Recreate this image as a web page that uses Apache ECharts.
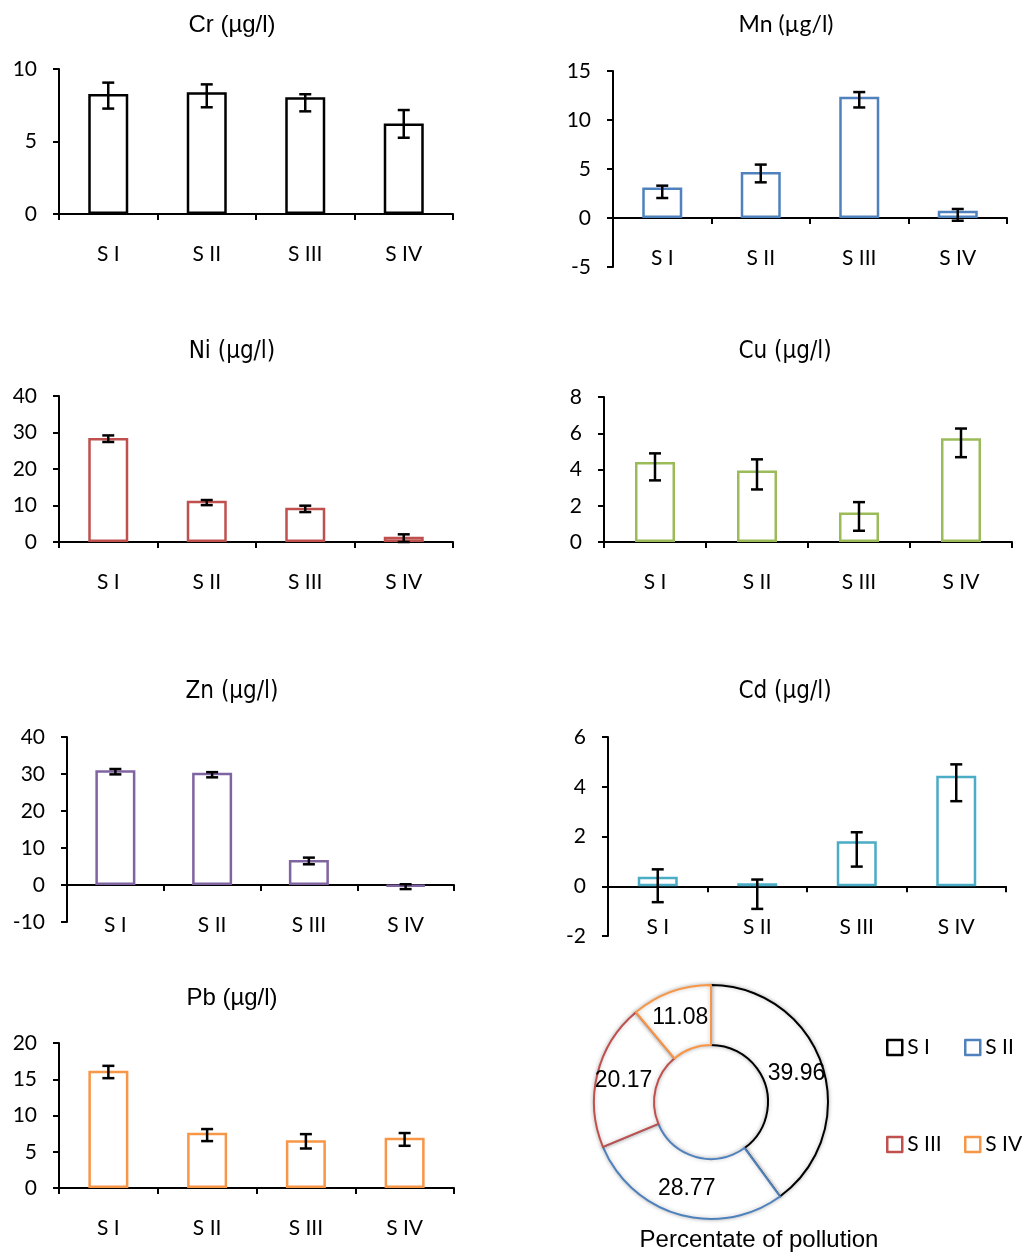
<!DOCTYPE html>
<html>
<head>
<meta charset="utf-8">
<script src="https://cdn.jsdelivr.net/npm/echarts@6/dist/echarts.min.js"></script>
<style>
  html, body { margin: 0; background: #fff; }
  #chart { width: 1026px; height: 1253px; }
</style>
</head>
<body>
<div id="chart"></div>
<script>
const categories = ['S I', 'S II', 'S III', 'S IV']

// mean value and error bar ends per site
const crMean = [8.28, 8.4, 8.05, 6.25]
const crLow = [7.27, 7.36, 7.08, 5.26]
const crHigh = [9.06, 8.94, 8.26, 7.17]

const mnMean = [3.1, 4.7, 12.37, 0.75]
const mnLow = [2.04, 3.64, 11.28, -0.28]
const mnHigh = [3.3, 5.45, 12.85, 0.92]

const niMean = [28.5, 11.3, 9.4, 1.45]
const niLow = [27.4, 10.1, 8.2, 0]
const niHigh = [29.2, 11.5, 9.95, 2.1]

const cuMean = [4.42, 3.95, 1.63, 5.73]
const cuLow = [3.4, 2.9, 0.62, 4.68]
const cuHigh = [4.89, 4.56, 2.2, 6.26]

const znMean = [31.0, 30.35, 6.76, -0.4]
const znLow = [29.9, 29.1, 5.6, -1.1]
const znHigh = [31.35, 30.5, 7.4, 0.2]

const cdMean = [0.38, 0.12, 1.81, 4.44]
const cdLow = [-0.64, -0.91, 0.79, 3.42]
const cdHigh = [0.68, 0.27, 2.17, 4.9]

const pbMean = [16.16, 7.62, 6.6, 6.93]
const pbLow = [15.15, 6.47, 5.45, 5.82]
const pbHigh = [16.85, 8.13, 7.43, 7.58]

const pollutionShare = [39.96, 28.77, 20.17, 11.08]
const siteColors = ['#000000', '#4F81BD', '#C0504D', '#F79646']

const ARIAL = '"Liberation Sans", Arial, sans-serif'
const NARROW = '"Liberation Sans Narrow", "Arial Narrow", "DejaVu Sans Condensed", sans-serif'
const CALIBRI = 'Lato, Carlito, Calibri, sans-serif'

const panels = [
  { title: 'Cr (µg/l)', font: '24px ' + ARIAL, tx: 232, ty: 25, mean: crMean, low: crLow, high: crHigh, color: '#000000', min: 0, max: 10, step: 5, rect: [59, 69, 394, 145] },
  { title: 'Mn (µg/l)', font: '23px ' + CALIBRI, tx: 786, ty: 25, mean: mnMean, low: mnLow, high: mnHigh, color: '#4F81BD', min: -5, max: 15, step: 5, rect: [613, 71, 394, 196] },
  { title: 'Ni (µg/l)', font: '24px ' + NARROW, tx: 232, ty: 352, mean: niMean, low: niLow, high: niHigh, color: '#C0504D', min: 0, max: 40, step: 10, rect: [59, 396, 394, 146] },
  { title: 'Cu (µg/l)', font: '24px ' + NARROW, tx: 785, ty: 352, mean: cuMean, low: cuLow, high: cuHigh, color: '#9BBB59', min: 0, max: 8, step: 2, rect: [604, 397, 408, 145] },
  { title: 'Zn (µg/l)', font: '24px ' + NARROW, tx: 232, ty: 692, mean: znMean, low: znLow, high: znHigh, color: '#8064A2', min: -10, max: 40, step: 10, rect: [67, 737, 387, 185] },
  { title: 'Cd (µg/l)', font: '24px ' + NARROW, tx: 785, ty: 692, mean: cdMean, low: cdLow, high: cdHigh, color: '#4BACC6', min: -2, max: 6, step: 2, rect: [608, 737, 398, 199] },
  { title: 'Pb (µg/l)', font: '24px ' + ARIAL, tx: 232, ty: 998, mean: pbMean, low: pbLow, high: pbHigh, color: '#F79646', min: 0, max: 20, step: 5, rect: [59, 1043, 395, 145] }
]

const axisLine = { show: true, onZero: true, lineStyle: { color: '#000', width: 2 } }
const axisTick = { show: true, length: 6, lineStyle: { color: '#000', width: 2 } }

const renderErrorBar = (params, api) => {
  const lo = api.coord([api.value(0), api.value(1)])
  const hi = api.coord([api.value(0), api.value(2)])
  const w = 6
  const style = { stroke: '#000', lineWidth: 2.5 }
  return {
    type: 'group',
    children: [
      { type: 'line', shape: { x1: lo[0], y1: lo[1], x2: hi[0], y2: hi[1] }, style },
      { type: 'line', shape: { x1: lo[0] - w, y1: lo[1], x2: lo[0] + w, y2: lo[1] }, style },
      { type: 'line', shape: { x1: hi[0] - w, y1: hi[1], x2: hi[0] + w, y2: hi[1] }, style }
    ]
  }
}

const grid = []
const xAxis = []
const yAxis = []
const series = []
const graphic = []

panels.forEach((p, i) => {
  const [left, top, width, height] = p.rect
  // labels sit under the zero line, but echarts places them from the grid bottom
  const zeroGap = height * (0 - p.min) / (p.max - p.min)
  grid.push({ left, top, width, height, containLabel: false })
  xAxis.push({
    type: 'category',
    gridIndex: i,
    data: categories,
    axisLine,
    axisTick,
    axisLabel: { margin: 30 - zeroGap, color: '#000', fontSize: 21, fontFamily: CALIBRI },
    splitLine: { show: false }
  })
  yAxis.push({
    type: 'value',
    gridIndex: i,
    min: p.min,
    max: p.max,
    interval: p.step,
    axisLine,
    axisTick,
    axisLabel: { margin: 22, color: '#000', fontSize: 21, fontFamily: CALIBRI },
    splitLine: { show: false }
  })
  series.push({
    type: 'bar',
    xAxisIndex: i,
    yAxisIndex: i,
    data: p.mean,
    barWidth: 40,
    itemStyle: { color: '#fff', borderColor: p.color, borderWidth: 2.5 },
    silent: true
  })
  series.push({
    type: 'custom',
    xAxisIndex: i,
    yAxisIndex: i,
    renderItem: renderErrorBar,
    data: categories.map((c, k) => [k, p.low[k], p.high[k]]),
    encode: { x: 0, y: [1, 2] },
    z: 5,
    silent: true
  })
  graphic.push({
    type: 'text',
    x: p.tx,
    y: p.ty,
    style: { text: p.title, font: p.font, fill: '#000', textAlign: 'center', textVerticalAlign: 'middle' }
  })
})

graphic.push({
  type: 'text',
  x: 759,
  y: 1240,
  style: { text: 'Percentate of pollution', font: '24px ' + ARIAL, fill: '#000', textAlign: 'center', textVerticalAlign: 'middle' }
})

series.push({
  type: 'pie',
  center: [711, 1102],
  radius: [57, 117],
  startAngle: 90,
  clockwise: true,
  silent: true,
  label: {
    position: 'inside',
    formatter: '{c}',
    color: '#000',
    fontSize: 23,
    fontFamily: ARIAL
  },
  labelLine: { show: false },
  data: categories.map((c, k) => ({
    name: c,
    value: pollutionShare[k],
    itemStyle: {
      color: '#fff',
      borderColor: siteColors[k],
      borderWidth: 2,
      shadowBlur: 4,
      shadowColor: 'rgba(0,0,0,0.25)'
    }
  }))
})

// one legend per item so the 2x2 layout matches the picture
const legendSpots = [[886, 1037], [964, 1037], [886, 1134], [964, 1134]]
const legend = categories.map((c, k) => ({
  left: legendSpots[k][0],
  top: legendSpots[k][1],
  padding: 0,
  icon: 'rect',
  itemWidth: 15,
  itemHeight: 15,
  itemStyle: { borderWidth: 2.5 },
  textStyle: { color: '#000', fontSize: 21, fontFamily: CALIBRI },
  data: [c]
}))

const chart = echarts.init(document.getElementById('chart'))
chart.setOption({
  animation: false,
  backgroundColor: '#fff',
  grid,
  xAxis,
  yAxis,
  series,
  graphic,
  legend
})
</script>
</body>
</html>
